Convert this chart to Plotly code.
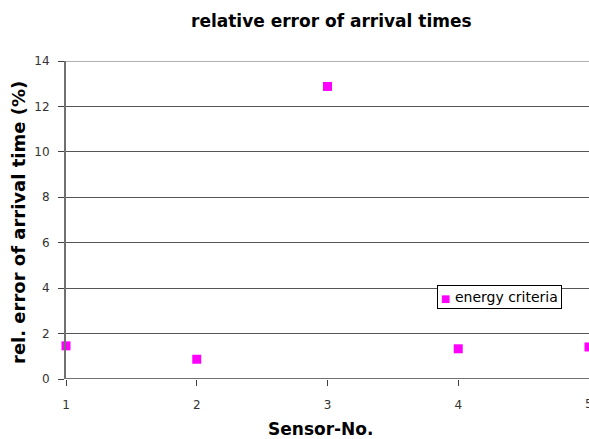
import plotly.graph_objects as go

# Relative error of arrival times per sensor (energy criteria)
sensors = [1, 2, 3, 4, 5]
rel_error = [1.46, 0.87, 12.88, 1.33, 1.41]
y_ticks = [0, 2, 4, 6, 8, 10, 12, 14]
x_ticks = [1, 2, 3, 4, 5]
series_name = "energy criteria"

FONT = "'DejaVu Sans', Verdana, sans-serif"
MAGENTA = "#ff00ff"

W, H = 589, 439
L, R, T, B = 66, 0, 61, 60
plot_w = W - L - R
plot_h = H - T - B


def px_x(p):
    """pixel column -> paper x"""
    return (p - L) / plot_w


def px_y(p):
    """pixel row -> paper y"""
    return (H - B - p) / plot_h


fig = go.Figure()
fig.add_trace(go.Scatter(
    x=sensors, y=rel_error, mode="markers", name=series_name,
    marker=dict(symbol="square", size=9, color=MAGENTA, line=dict(width=0)),
    cliponaxis=False, showlegend=False,
))

fig.update_layout(
    width=W, height=H,
    margin=dict(l=L, r=R, t=T, b=B, pad=0),
    paper_bgcolor="white", plot_bgcolor="white",
    font=dict(family=FONT, size=12, color="black"),
    showlegend=False,
    xaxis=dict(
        range=[1, 5], tickmode="array", tickvals=x_ticks,
        ticktext=[str(v) for v in x_ticks],
        showgrid=False, zeroline=False, showline=False,
        ticks="outside", ticklen=6, tickwidth=1, tickcolor="#404040",
        ticklabelstandoff=9,
        tickfont=dict(family=FONT, size=12, color="#333"),
    ),
    yaxis=dict(
        range=[0, 14], tickmode="array", tickvals=y_ticks,
        showgrid=True, gridcolor="#555555", gridwidth=1,
        zeroline=False,
        showline=True, linecolor="#707070", linewidth=2,
        ticks="outside", ticklen=6, tickwidth=1, tickcolor="#404040",
        ticklabelstandoff=6,
        tickfont=dict(family=FONT, size=12, color="#333"),
    ),
)

# lighter top edge of the plot area
fig.add_shape(type="line", xref="paper", yref="y", x0=0, x1=1, y0=14, y1=14,
              line=dict(color="#b0b0b0", width=2), layer="above")
# x axis line at zero
fig.add_shape(type="line", xref="paper", yref="y", x0=0, x1=1, y0=0, y1=0,
              line=dict(color="#404040", width=1.5), layer="below")

# the last sensor's tick label sits on the right edge and is cut off there
fig.add_annotation(text=str(x_ticks[-1]), xref="paper", yref="paper",
                   x=1, y=px_y(404), xanchor="center", yanchor="middle",
                   showarrow=False,
                   font=dict(family=FONT, size=12, color="#333"))

# legend box
fig.add_annotation(
    text=(f"<span style='color:{MAGENTA};font-size:10px'>■</span>"
          f" {series_name}"),
    xref="paper", yref="paper", x=px_x(437), y=px_y(285),
    xanchor="left", yanchor="top", showarrow=False, align="left",
    bgcolor="white", bordercolor="black", borderwidth=1, borderpad=3,
    font=dict(family=FONT, size=14, color="black"),
)

# chart title
fig.add_annotation(text="<b>relative error of arrival times</b>",
                   xref="paper", yref="paper", x=px_x(331.5), y=px_y(21),
                   xanchor="center", yanchor="middle", showarrow=False,
                   font=dict(family=FONT, size=17, color="black"))

# axis titles
fig.add_annotation(text="<b>Sensor-No.</b>", xref="paper", yref="paper",
                   x=px_x(320.5), y=px_y(429),
                   xanchor="center", yanchor="middle", showarrow=False,
                   font=dict(family=FONT, size=17, color="black"))

fig.add_annotation(text="<b>rel. error of arrival time (%)</b>",
                   xref="paper", yref="paper", x=px_x(18), y=px_y(223),
                   xanchor="center", yanchor="middle", textangle=-90,
                   showarrow=False,
                   font=dict(family=FONT, size=18, color="black"))

fig.write_html("out.html")
